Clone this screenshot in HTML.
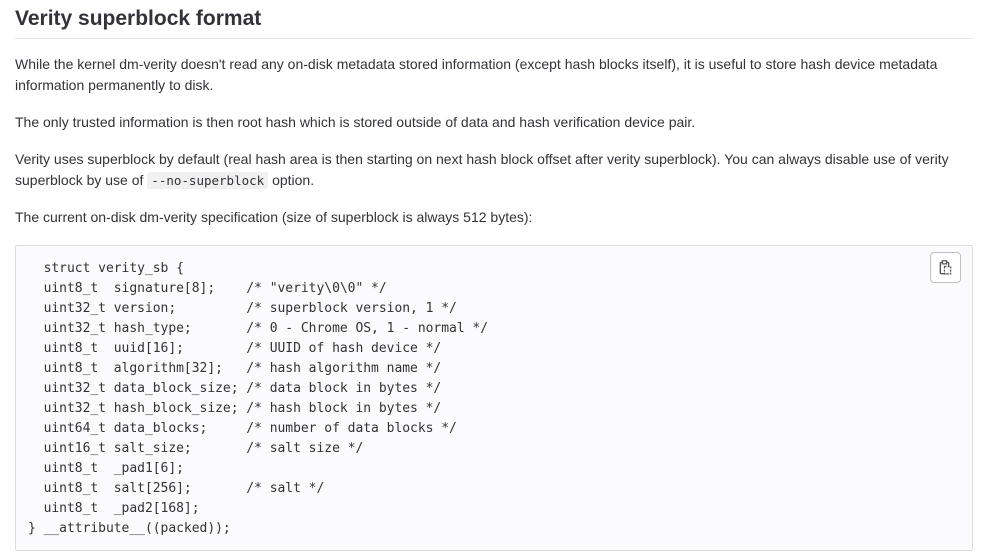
<!DOCTYPE html>
<html><head><meta charset="utf-8"><style>
body{margin:0;background:#fff;color:#333238;font-family:"Liberation Sans",sans-serif;font-size:14px;width:991px;height:560px;overflow:hidden}
h2{position:absolute;left:15px;top:6px;margin:0;font-size:21px;font-weight:bold;color:#333238;width:958px;border-bottom:1px solid #e5e5e5;height:32px;line-height:26px}
p{position:absolute;left:15px;margin:0;line-height:21px;width:958px}
code{font-family:"DejaVu Sans Mono",monospace;font-size:12.5px;background:#f0f0f0;border-radius:3px;padding:1px 4px}
pre{position:absolute;left:15px;top:245px;width:958px;height:306px;margin:0;background:#fbfafd;border:1px solid #dcdcde;border-radius:2px;font-family:"DejaVu Sans Mono",monospace;font-size:13px;line-height:20px;padding:0;box-sizing:border-box;color:#333238}
pre span{position:absolute;left:12px;top:13px;white-space:pre;letter-spacing:-0.03px}
.btn{position:absolute;left:930px;top:252px;width:31px;height:31px;border:1px solid #bfbfc3;border-radius:4px;background:#fff;box-sizing:border-box}
</style></head><body>
<h2>Verity superblock format</h2>
<p style="top:54px">While the kernel dm-verity doesn't read any on-disk metadata stored information (except hash blocks itself), it is useful to store hash device metadata information permanently to disk.</p>
<p style="top:112px">The only trusted information is then root hash which is stored outside of data and hash verification device pair.</p>
<p style="top:149px">Verity uses superblock by default (real hash area is then starting on next hash block offset after verity superblock). You can always disable use of verity superblock by use of <code>--no-superblock</code> option.</p>
<p style="top:207px">The current on-disk dm-verity specification (size of superblock is always 512 bytes):</p>
<pre><span>  struct verity_sb {
  uint8_t  signature[8];    /* "verity\0\0" */
  uint32_t version;         /* superblock version, 1 */
  uint32_t hash_type;       /* 0 - Chrome OS, 1 - normal */
  uint8_t  uuid[16];        /* UUID of hash device */
  uint8_t  algorithm[32];   /* hash algorithm name */
  uint32_t data_block_size; /* data block in bytes */
  uint32_t hash_block_size; /* hash block in bytes */
  uint64_t data_blocks;     /* number of data blocks */
  uint16_t salt_size;       /* salt size */
  uint8_t  _pad1[6];
  uint8_t  salt[256];       /* salt */
  uint8_t  _pad2[168];
} __attribute__((packed));</span></pre>
<div class="btn"><svg width="29" height="29" viewBox="0 0 28 28"><rect x="9" y="9" width="8" height="11" rx="1" fill="none" stroke="#555" stroke-width="1.3"/><rect x="11" y="7.5" width="4" height="3" fill="#fff" stroke="#555" stroke-width="1.2"/><rect x="13" y="13" width="6" height="7" fill="#fff" stroke="#555" stroke-width="1.2" stroke-dasharray="2 1"/></svg></div>
</body></html>
